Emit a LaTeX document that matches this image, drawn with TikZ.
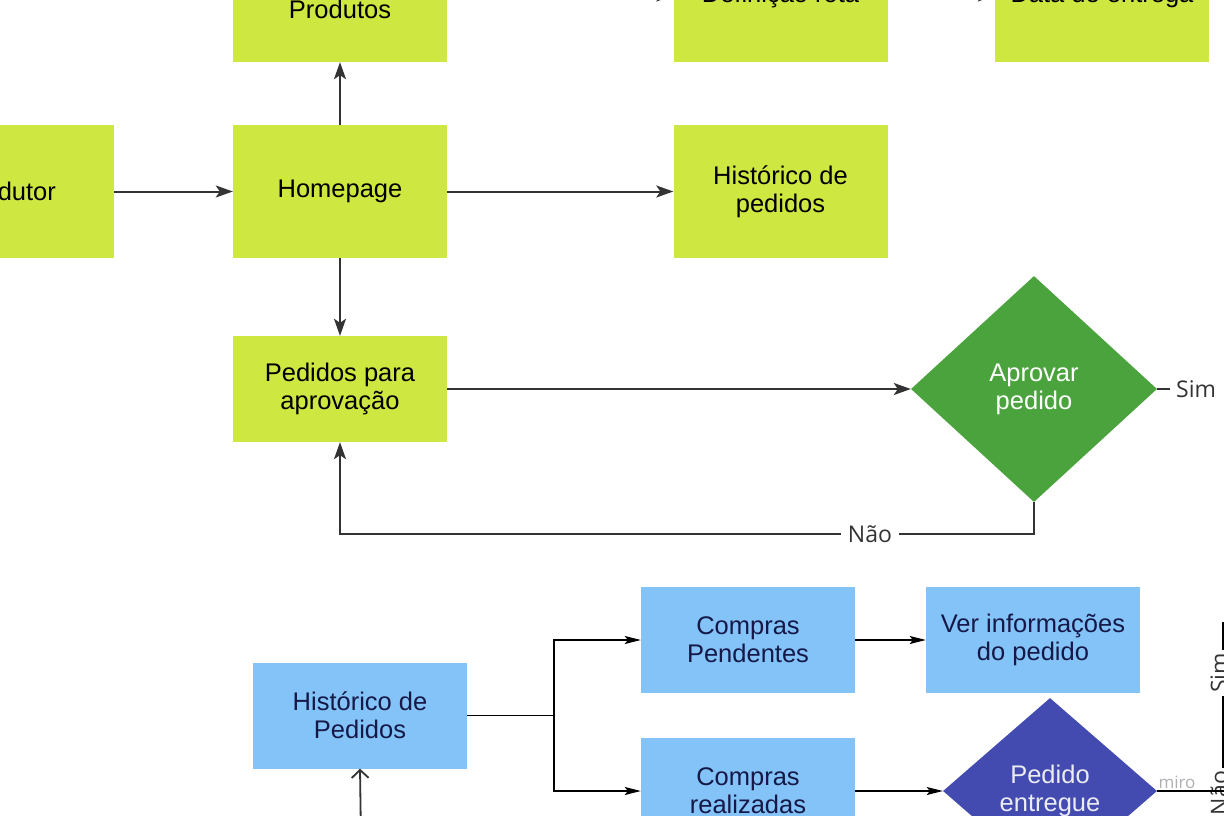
\documentclass[tikz,border=0pt]{standalone}
\usepackage{fontspec}
\setmainfont{Liberation Sans}
\newfontfamily\labfont{Open Sans}
\usetikzlibrary{arrows.meta,shapes.geometric}
\definecolor{lime}{RGB}{206,231,65}
\definecolor{dgreen}{RGB}{75,163,61}
\definecolor{lblue}{RGB}{131,195,247}
\definecolor{indigo}{RGB}{67,75,176}
\definecolor{navy}{RGB}{22,24,72}
\definecolor{arrgray}{RGB}{51,51,51}
\begin{document}
\begin{tikzpicture}[x=1pt,y=-1pt,
  boxfont/.style={font=\fontsize{25.5}{28}\selectfont},
  gbox/.style={boxfont,fill=lime,draw=none,inner sep=0pt,minimum width=214pt,align=center,text=black},
  bbox/.style={boxfont,fill=lblue,draw=none,inner sep=0pt,minimum width=214pt,minimum height=106pt,align=center,text=navy},
  garrow/.style={draw=arrgray,line width=2pt,-{Stealth[length=17pt,width=12pt,inset=4pt]}},
  gline/.style={draw=arrgray,line width=2pt},
  barrow/.style={draw=black,line width=1.5pt,-{Stealth[length=16pt,width=8pt,inset=3pt]}},
  bline/.style={draw=black,line width=1.5pt},
  lab/.style={font=\labfont\fontsize{23}{26}\selectfont,text=arrgray,fill=white,inner sep=3pt}]
\useasboundingbox (0,0) rectangle (1224,816);
\clip (0,0) rectangle (1224,816);
\fill[white] (0,0) rectangle (1224,816);

% green boxes
\node[gbox,minimum height=106pt] (prod) at (340,9) {Produtos};
\node[gbox,minimum height=133pt] (defr) at (780.5,-4.5) {Definição rota};
\node[gbox,minimum height=133pt] (data) at (1102,-4.5) {Data de entrega};
\node[gbox,minimum height=133pt] (produtor) at (7,191.5) {Produtor};
\node[gbox,minimum height=133pt] (home) at (340,191.5) {Homepage};
\node[gbox,minimum height=133pt] (hist) at (780.5,191.5) {Histórico de\\pedidos};
\node[gbox,minimum height=106pt] (pend) at (340,389) {Pedidos para\\aprovação};
\node[diamond,fill=dgreen,inner sep=0pt,minimum width=246pt,minimum height=226pt,
  boxfont,text=white,align=center] (aprov) at (1034,389) {Aprovar\\pedido};

\coordinate (inDef) at (540,-4.5);
\draw[garrow] (inDef) -- (defr.west);
\draw[garrow] (defr.east) -- (data.west);
\draw[garrow] (produtor.east) -- (home.west);
\draw[garrow] (home.north) -- (prod.south);
\draw[garrow] (home.east) -- (hist.west);
\draw[garrow] (home.south) -- (pend.north);
\draw[garrow] (pend.east) -- (aprov.west);
\coordinate (nc1) at (1034,534);
\coordinate (nc2) at (340,534);
\draw[garrow] (aprov.south) -- (nc1) -- (nc2) -- (pend.south);
\node[lab,inner xsep=7pt] (nao1) at (870,534) {Não};
\node[lab,anchor=west,inner xsep=6pt] (sim1) at (1170,389) {Sim};
\draw[gline] (aprov.east) -- (sim1.west);

% blue section
\node[bbox] (hped) at (360,715.5) {Histórico de\\Pedidos};
\node[bbox] (cpend) at (748,640) {Compras\\Pendentes};
\node[bbox] (creal) at (748,791) {Compras\\realizadas};
\node[bbox] (verinf) at (1033,640) {Ver informações\\do pedido};
\node[diamond,fill=indigo,inner sep=0pt,minimum width=214pt,minimum height=186pt,
  boxfont,text={rgb,255:red,235;green,235;blue,242},align=center] (entr) at (1050,791) {Pedido\\entregue};

\coordinate (split) at (554,715.5);
\draw[bline] (hped.east) -- (split);
\draw[barrow] (split) |- (cpend.west);
\draw[barrow] (split) |- (creal.west);
\draw[barrow] (cpend.east) -- (verinf.west);
\draw[barrow] (creal.east) -- (entr.west);
\coordinate (upStart) at (361,840);
\draw[draw=arrgray,line width=1.8pt,-{Straight Barb[length=8pt,width=17pt]}] (upStart) -- (hped.south);

% right side labels
\coordinate (vTop) at (1223,623);
\coordinate (vTopR) at (1240,623);
\coordinate (vBot) at (1223,840);
\draw[bline] (vTopR) -- (vTop) -- (vBot);
\node[lab,rotate=90] (sim2) at (1219,673) {Sim};
\node[lab,rotate=90] (nao2) at (1219,793) {Não};
\coordinate (eR) at (1226,791);
\draw[bline] (entr.east) -- (eR);
\node[font=\labfont\fontsize{17}{18}\selectfont,text={rgb,255:red,175;green,175;blue,180}] (miro) at (1177,782) {miro};
\end{tikzpicture}
\end{document}
